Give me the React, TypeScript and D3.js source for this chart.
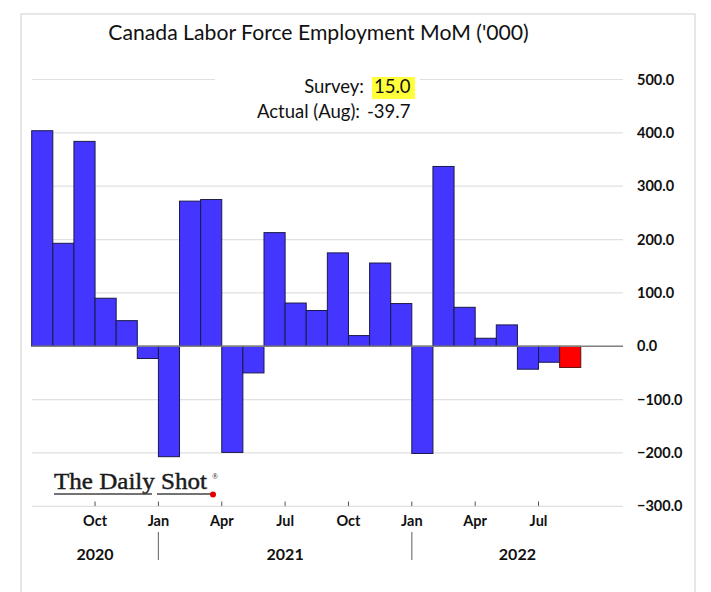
import React from "react";
import * as d3 from "d3";

const months = [
  "2020-07", "2020-08", "2020-09", "2020-10", "2020-11", "2020-12",
  "2021-01", "2021-02", "2021-03", "2021-04", "2021-05", "2021-06",
  "2021-07", "2021-08", "2021-09", "2021-10", "2021-11", "2021-12",
  "2022-01", "2022-02", "2022-03", "2022-04", "2022-05", "2022-06",
  "2022-07", "2022-08",
];
const axisMonths = [...months, "2022-09", "2022-10"];
const values = [
  404, 193, 384, 90, 48, -23, -207, 272, 275, -199, -50, 213,
  81, 67, 175, 20, 156, 80, -201, 337, 73, 15, 40, -43, -30, -39.7,
];
const yTicks = [500, 400, 300, 200, 100, 0, -100, -200, -300];
const monthTicks = [
  { m: "2020-10", label: "Oct" }, { m: "2021-01", label: "Jan" },
  { m: "2021-04", label: "Apr" }, { m: "2021-07", label: "Jul" },
  { m: "2021-10", label: "Oct" }, { m: "2022-01", label: "Jan" },
  { m: "2022-04", label: "Apr" }, { m: "2022-07", label: "Jul" },
];
const years = [
  { label: "2020", from: "2020-07", to: "2021-01" },
  { label: "2021", from: "2021-01", to: "2022-01" },
  { label: "2022", from: "2022-01", to: null },
];
const yearSeparators = ["2021-01", "2022-01"];
const title = "Canada Labor Force Employment MoM ('000)";
const surveyValue = "15.0";
const actualValue = "-39.7";

const W = 711, H = 592;
const left = 31.7, right = 623;
const font = "Lato, 'Liberation Sans', sans-serif";

export default function App() {
  const x = d3.scaleBand<string>().domain(axisMonths).range([left, right]).padding(0);
  const y = d3.scaleLinear().domain([-300, 500]).range([506.3, 79.5]);
  const y0 = y(0);
  const bw = x.bandwidth();

  return (
    <svg width={W} height={H} style={{ position: "absolute", left: 0, top: 0, background: "#fff" }}>
      <rect x={21} y={14} width={674} height={600} fill="#fff" stroke="#cfcfcf" strokeWidth={1} />
      <text x={318.5} y={40} textAnchor="middle" fontFamily={font} fontSize={21.2} fill="#111">{title}</text>

      {yTicks.filter((t) => t !== 0).map((t) => (
        <line key={t} x1={left} x2={right} y1={y(t)} y2={y(t)} stroke="#e0e0e0" strokeWidth={1.2} />
      ))}
      <rect x={215} y={70} width={205} height={54} fill="#fff" />

      {values.map((v, i) => (
        <rect
          key={months[i]}
          x={x(months[i])!}
          y={Math.min(y(v), y0)}
          width={bw}
          height={Math.abs(y(v) - y0)}
          fill={i === values.length - 1 ? "#FF0000" : "#4436FF"}
          stroke={i === values.length - 1 ? "#5a1010" : "#1a1a4a"}
          strokeWidth={1}
        />
      ))}
      <line x1={left} x2={right} y1={y0} y2={y0} stroke="#7f7f7f" strokeWidth={1.5} />

      {yTicks.map((t) => (
        <text key={t} x={637} y={y(t)} dy="0.35em" fontFamily={font} fontWeight="bold" fontSize={14.5} fill="#111">
          {d3.format(".1f")(t)}
        </text>
      ))}

      {monthTicks.map((t) => (
        <g key={t.m}>
          <line x1={x(t.m)!} x2={x(t.m)!} y1={501.5} y2={506} stroke="#555" strokeWidth={1} />
          <text x={x(t.m)!} y={520.5} dy="0.35em" textAnchor="middle" fontFamily={font} fontWeight="bold" fontSize={14.5} fill="#111">
            {t.label}
          </text>
        </g>
      ))}
      {yearSeparators.map((m) => (
        <line key={m} x1={x(m)!} x2={x(m)!} y1={532} y2={560} stroke="#777" strokeWidth={1.2} />
      ))}
      {years.map((yr) => {
        const a = x(yr.from)!;
        const b = yr.to ? x(yr.to)! : right;
        return (
          <text key={yr.label} x={(a + b) / 2} y={554} dy="0.35em" textAnchor="middle" fontFamily={font} fontWeight="bold" fontSize={16} fill="#111">
            {yr.label}
          </text>
        );
      })}

      <text x={364} y={93} textAnchor="end" fontFamily={font} fontSize={18.5} fill="#111">Survey:</text>
      <rect x={372} y={77} width={43} height={22} fill="#FFFF3C" />
      <text x={374} y={93} fontFamily={font} fontSize={18.5} fill="#111">{surveyValue}</text>
      <text x={360} y={118} textAnchor="end" fontFamily={font} fontSize={18.5} fill="#111">Actual (Aug):</text>
      <text x={367} y={118} fontFamily={font} fontSize={18.5} fill="#111">{actualValue}</text>

      <g>
        <text x={54} y={489} fontFamily="'Liberation Serif', serif" fontSize={24} textLength={153} lengthAdjust="spacingAndGlyphs" fill="#1a1a1a" stroke="#1a1a1a" strokeWidth={0.45}>
          The Daily Shot
        </text>
        <text x={212} y={479} fontFamily="'Liberation Serif', serif" fontSize={8} fill="#1a1a1a">®</text>
        <line x1={54} x2={152} y1={494} y2={494} stroke="#444" strokeWidth={1.3} />
        <line x1={157} x2={211} y1={494} y2={494} stroke="#444" strokeWidth={1.3} />
        <circle cx={213} cy={494.5} r={3} fill="#e00000" />
      </g>
    </svg>
  );
}
